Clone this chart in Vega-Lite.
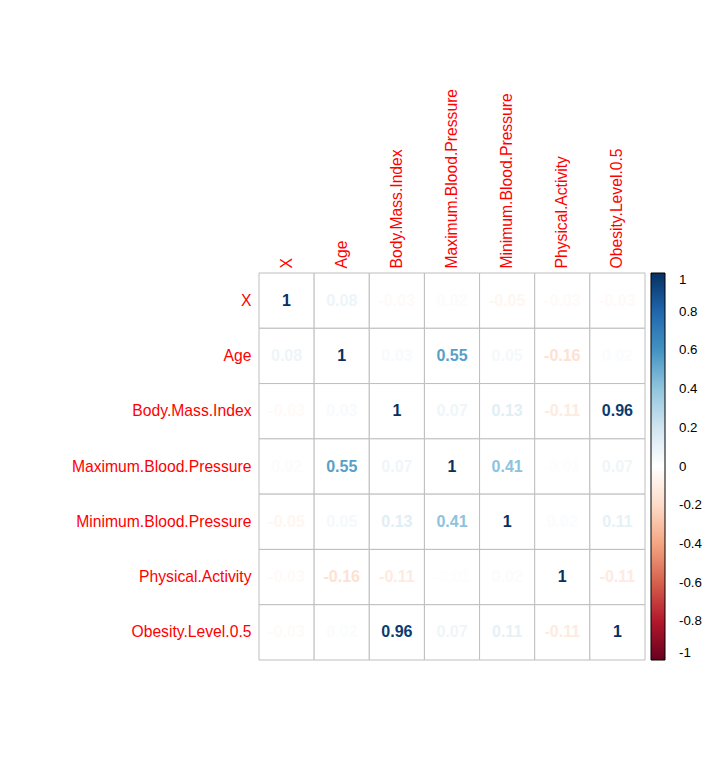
{
  "$schema": "https://vega.github.io/schema/vega-lite/v6.json",
  "autosize": "none",
  "width": 386,
  "height": 387,
  "padding": {"left": 259, "top": 273, "right": 58, "bottom": 104},
  "background": "white",
  "config": {"view": {"stroke": null}, "font": "Liberation Sans"},
  "data": {"values": [
    {"row": "X", "col": "X", "value": 1},
    {"row": "X", "col": "Age", "value": 0.08},
    {"row": "X", "col": "Body.Mass.Index", "value": -0.03},
    {"row": "X", "col": "Maximum.Blood.Pressure", "value": 0.02},
    {"row": "X", "col": "Minimum.Blood.Pressure", "value": -0.05},
    {"row": "X", "col": "Physical.Activity", "value": -0.03},
    {"row": "X", "col": "Obesity.Level.0.5", "value": -0.03},
    {"row": "Age", "col": "X", "value": 0.08},
    {"row": "Age", "col": "Age", "value": 1},
    {"row": "Age", "col": "Body.Mass.Index", "value": 0.03},
    {"row": "Age", "col": "Maximum.Blood.Pressure", "value": 0.55},
    {"row": "Age", "col": "Minimum.Blood.Pressure", "value": 0.05},
    {"row": "Age", "col": "Physical.Activity", "value": -0.16},
    {"row": "Age", "col": "Obesity.Level.0.5", "value": 0.02},
    {"row": "Body.Mass.Index", "col": "X", "value": -0.03},
    {"row": "Body.Mass.Index", "col": "Age", "value": 0.03},
    {"row": "Body.Mass.Index", "col": "Body.Mass.Index", "value": 1},
    {"row": "Body.Mass.Index", "col": "Maximum.Blood.Pressure", "value": 0.07},
    {"row": "Body.Mass.Index", "col": "Minimum.Blood.Pressure", "value": 0.13},
    {"row": "Body.Mass.Index", "col": "Physical.Activity", "value": -0.11},
    {"row": "Body.Mass.Index", "col": "Obesity.Level.0.5", "value": 0.96},
    {"row": "Maximum.Blood.Pressure", "col": "X", "value": 0.02},
    {"row": "Maximum.Blood.Pressure", "col": "Age", "value": 0.55},
    {"row": "Maximum.Blood.Pressure", "col": "Body.Mass.Index", "value": 0.07},
    {"row": "Maximum.Blood.Pressure", "col": "Maximum.Blood.Pressure", "value": 1},
    {"row": "Maximum.Blood.Pressure", "col": "Minimum.Blood.Pressure", "value": 0.41},
    {"row": "Maximum.Blood.Pressure", "col": "Physical.Activity", "value": -0.01},
    {"row": "Maximum.Blood.Pressure", "col": "Obesity.Level.0.5", "value": 0.07},
    {"row": "Minimum.Blood.Pressure", "col": "X", "value": -0.05},
    {"row": "Minimum.Blood.Pressure", "col": "Age", "value": 0.05},
    {"row": "Minimum.Blood.Pressure", "col": "Body.Mass.Index", "value": 0.13},
    {"row": "Minimum.Blood.Pressure", "col": "Maximum.Blood.Pressure", "value": 0.41},
    {"row": "Minimum.Blood.Pressure", "col": "Minimum.Blood.Pressure", "value": 1},
    {"row": "Minimum.Blood.Pressure", "col": "Physical.Activity", "value": 0.02},
    {"row": "Minimum.Blood.Pressure", "col": "Obesity.Level.0.5", "value": 0.11},
    {"row": "Physical.Activity", "col": "X", "value": -0.03},
    {"row": "Physical.Activity", "col": "Age", "value": -0.16},
    {"row": "Physical.Activity", "col": "Body.Mass.Index", "value": -0.11},
    {"row": "Physical.Activity", "col": "Maximum.Blood.Pressure", "value": -0.01},
    {"row": "Physical.Activity", "col": "Minimum.Blood.Pressure", "value": 0.02},
    {"row": "Physical.Activity", "col": "Physical.Activity", "value": 1},
    {"row": "Physical.Activity", "col": "Obesity.Level.0.5", "value": -0.11},
    {"row": "Obesity.Level.0.5", "col": "X", "value": -0.03},
    {"row": "Obesity.Level.0.5", "col": "Age", "value": 0.02},
    {"row": "Obesity.Level.0.5", "col": "Body.Mass.Index", "value": 0.96},
    {"row": "Obesity.Level.0.5", "col": "Maximum.Blood.Pressure", "value": 0.07},
    {"row": "Obesity.Level.0.5", "col": "Minimum.Blood.Pressure", "value": 0.11},
    {"row": "Obesity.Level.0.5", "col": "Physical.Activity", "value": -0.11},
    {"row": "Obesity.Level.0.5", "col": "Obesity.Level.0.5", "value": 1}
  ]},
  "encoding": {
    "x": {
      "field": "col", "type": "nominal",
      "scale": {"domain": ["X", "Age", "Body.Mass.Index", "Maximum.Blood.Pressure", "Minimum.Blood.Pressure", "Physical.Activity", "Obesity.Level.0.5"], "padding": 0},
      "axis": {"orient": "top", "title": null, "labelAngle": -90, "labelColor": "red", "labelFontSize": 15.7, "labelPadding": 5, "ticks": false, "tickSize": 0, "domain": false, "labelFont": "Liberation Sans"}
    },
    "y": {
      "field": "row", "type": "nominal",
      "scale": {"domain": ["X", "Age", "Body.Mass.Index", "Maximum.Blood.Pressure", "Minimum.Blood.Pressure", "Physical.Activity", "Obesity.Level.0.5"], "padding": 0},
      "axis": {"title": null, "labelColor": "red", "labelFontSize": 15.7, "labelPadding": 8, "ticks": false, "tickSize": 0, "domain": false, "labelFont": "Liberation Sans"}
    }
  },
  "layer": [
    {
      "mark": {"type": "rect", "fill": "white", "stroke": "#BEBEBE", "strokeWidth": 1}
    },
    {
      "mark": {"type": "text", "fontWeight": "bold", "fontSize": 16, "font": "Liberation Sans"},
      "encoding": {
        "text": {"field": "value", "type": "nominal"},
        "color": {
          "field": "value", "type": "quantitative",
          "scale": {
            "domain": [-1, -0.8, -0.6, -0.4, -0.2, 0, 0.2, 0.4, 0.6, 0.8, 1],
            "range": ["#67001F", "#B2182B", "#D6604D", "#F4A582", "#FDDBC7", "#FFFFFF", "#D1E5F0", "#92C5DE", "#4393C3", "#2166AC", "#053061"],
            "interpolate": "rgb"
          },
          "legend": {
            "title": null,
            "orient": "none",
            "legendX": 392,
            "legendY": 0,
            "direction": "vertical",
            "gradientLength": 387,
            "gradientThickness": 14,
            "gradientStrokeColor": "black",
            "gradientStrokeWidth": 1,
            "values": [-1, -0.8, -0.6, -0.4, -0.2, 0, 0.2, 0.4, 0.6, 0.8, 1],
            "labelExpr": "'' + datum.value",
            "labelFontSize": 13.3,
            "labelColor": "black",
            "labelFont": "Liberation Sans",
            "labelOverlap": false,
            "labelAlign": "center",
            "labelOffset": 14
          }
        }
      }
    }
  ]
}
